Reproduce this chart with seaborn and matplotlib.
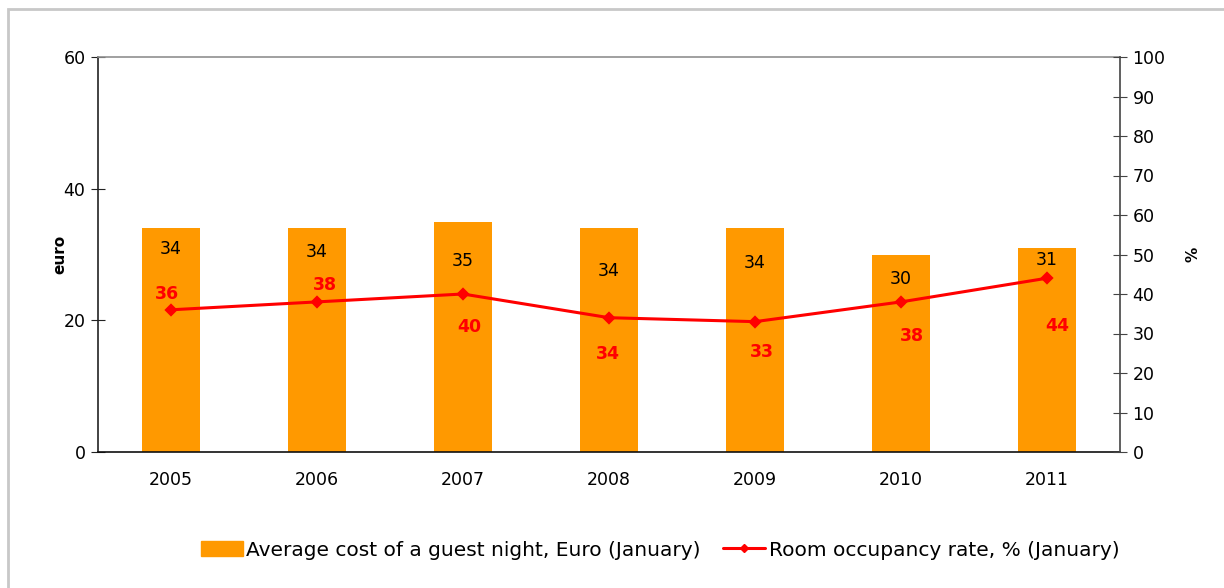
"""Average cost of a guest night vs room occupancy rate, January 2005-2011."""

import matplotlib.pyplot as plt
import matplotlib.patches as mpatches
from matplotlib.lines import Line2D
import numpy as np
import pandas as pd
import seaborn as sns

years = ["2005", "2006", "2007", "2008", "2009", "2010", "2011"]
cost_eur = [34, 34, 35, 34, 34, 30, 31]
occupancy_pct = [36, 38, 40, 34, 33, 38, 44]

# label nudges (pixels)
cost_label_dy = [-21, -24, -39, -43, -35, -25, -12]
occ_label_off = [(-4, 16), (8, 17), (6, -33), (-1, -36), (7, -30), (11, -34), (10, -48)]

ORANGE = "#ff9900"
RED = "#ff0000"

sns.set_style("white")
plt.rcParams["font.family"] = ["DejaVu Sans"]
plt.rcParams["text.color"] = "black"
plt.rcParams["xtick.labelcolor"] = "black"
plt.rcParams["ytick.labelcolor"] = "black"
plt.rcParams["axes.labelcolor"] = "black"

df = pd.DataFrame({"year": years, "cost": cost_eur, "occ": occupancy_pct})

fig = plt.figure(figsize=(12.24, 5.88), dpi=100)
ax = fig.add_axes([98 / 1224, 1 - 452 / 588, (1120 - 98) / 1224, (452 - 57) / 588])

sns.barplot(data=df, x="year", y="cost", color=ORANGE, width=0.40,
            saturation=1, linewidth=0, ax=ax, zorder=2)
ax.set_ylim(0, 60)
ax.set_xlim(-0.5, 6.5)
ax.set_yticks([0, 20, 40, 60])
ax.set_xlabel("")
ax.set_ylabel("euro", fontweight="bold", fontsize=11)
ax.yaxis.set_label_coords(-0.030, 0.5)

for i, (v, dy) in enumerate(zip(cost_eur, cost_label_dy)):
    ax.annotate(str(v), (i, v), xytext=(0, dy), textcoords="offset pixels",
                ha="center", va="center", fontsize=12.5, color="black")

ax2 = ax.twinx()
sns.pointplot(data=df, x="year", y="occ", color=RED, markers="D",
              markersize=5.5, linewidth=2.2, ax=ax2)
ax2.set_ylim(0, 100)
ax2.set_xlim(-0.5, 6.5)
ax2.set_yticks(np.arange(0, 101, 10))
ax2.set_xlabel("")
ax2.set_ylabel("%", fontweight="bold", fontsize=11, rotation=90)
ax2.yaxis.set_label_coords(1.064, 0.5)

for i, (v, (dx, dy)) in enumerate(zip(occupancy_pct, occ_label_off)):
    ax2.annotate(str(v), (i, v), xytext=(dx, dy), textcoords="offset pixels",
                 ha="center", va="center", fontsize=12.5, color=RED,
                 fontweight="bold")

# axes styling
for a in (ax, ax2):
    for s in a.spines.values():
        s.set_visible(False)
ax.spines["left"].set_visible(True)
ax.spines["left"].set_color("#222222")
ax.spines["bottom"].set_visible(True)
ax.spines["bottom"].set_color("#111111")
ax.spines["top"].set_visible(True)
ax.spines["top"].set_color("#909090")
ax2.spines["right"].set_visible(True)
ax2.spines["right"].set_color("#444444")
for a in (ax, ax2):
    for s in a.spines.values():
        s.set_linewidth(1.2)

ax.tick_params(axis="y", which="major", direction="inout", length=10,
               labelsize=12.5, color="#222222", pad=4)
ax2.tick_params(axis="y", which="major", direction="inout", length=10,
                labelsize=12.5, color="#444444", pad=4)
ax.set_xticks(np.arange(-0.5, 7.0, 1.0), minor=True)
ax.tick_params(axis="x", which="major", length=0, labelsize=12.5, pad=14)
ax.tick_params(axis="x", which="minor", direction="inout", length=10,
               color="#111111")
ax2.tick_params(axis="x", which="both", length=0)

ax.grid(False)
ax2.grid(False)

handles = [
    mpatches.Patch(color=ORANGE, label="Average cost of a guest night, Euro (January)"),
    Line2D([0], [0], color=RED, lw=2.2, marker="D", markersize=4.5,
           label="Room occupancy rate, % (January)"),
]
fig.legend(handles=handles, loc="center", bbox_to_anchor=(660 / 1224, 1 - 550 / 588),
           ncol=2, frameon=False, handlelength=2.1,
           handletextpad=0.16, columnspacing=1.1,
           prop={"family": ["DejaVu Sans"], "size": 14.5})

# chart-area border (cropped at right and bottom in the original)
fig.patches.append(mpatches.Rectangle((8 / 1224, -0.1), 1.2, 1 - 9 / 588 + 0.1,
                                      transform=fig.transFigure, fill=False,
                                      edgecolor="#c8c8c8", lw=2))

fig.savefig("out.png", dpi=100)
